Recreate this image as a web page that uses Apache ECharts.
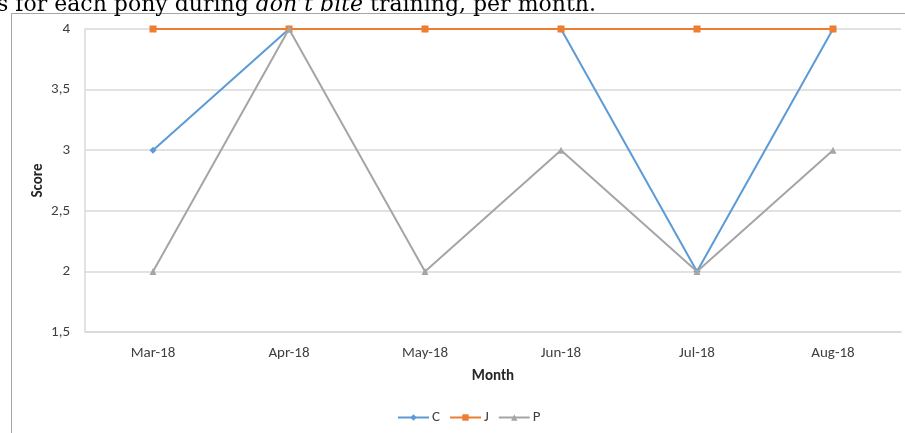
<!DOCTYPE html>
<html><head><meta charset="utf-8">
<script src="https://cdn.jsdelivr.net/npm/echarts@6/dist/echarts.min.js"></script>
<style>html,body{margin:0;padding:0;background:#fff}#c{width:905px;height:433px}</style>
</head><body><div id="c"></div>
<script>
var months = ['Mar-18','Apr-18','May-18','Jun-18','Jul-18','Aug-18'];
var seriesC = [3, 4, 4, 4, 2, 4];
var seriesJ = [4, 4, 4, 4, 4, 4];
var seriesP = [2, 4, 2, 3, 2, 3];
var yTicks = [1.5, 2, 2.5, 3, 3.5, 4];

var chart = echarts.init(document.getElementById('c'), null, {renderer:'canvas'});
var FF = 'Carlito, "Open Sans", "Liberation Sans", sans-serif';
var SERIF = '"DejaVu Serif", "Liberation Serif", serif';
chart.setOption({
  animation:false,
  graphic:[
    {type:'rect', shape:{x:11.5,y:13.5,width:1000,height:500}, style:{fill:null, stroke:'#a6a6a6', lineWidth:1}, silent:true},
    {type:'text', x:-3, y:16, style:{
      text:'{n|s for each pony during }{i|don\u2019t bite}{n| training, per month.}',
      verticalAlign:'bottom',
      rich:{
        n:{fontFamily:SERIF, fontSize:22, fill:'#000'},
        i:{fontFamily:SERIF, fontSize:22, fontStyle:'italic', fill:'#000'}
      }
    }}
  ],
  grid:{left:85, right:4, top:29, bottom:101, containLabel:false},
  legend:{
    top:410, left:397, padding:0, itemWidth:31, itemHeight:8, itemGap:9,
    textStyle:{fontFamily:FF, fontSize:15, color:'#404040', padding:[0,0,0,-2]},
    data:['C','J','P']
  },
  xAxis:{
    type:'category', data:months, boundaryGap:true,
    name:'Month', nameLocation:'middle', nameGap:37, nameMoveOverlap:false,
    nameTextStyle:{fontFamily:FF, fontSize:15, fontWeight:'bold', color:'#262626'},
    axisLine:{lineStyle:{color:'#d9d9d9', width:1.5}},
    axisTick:{show:false},
    axisLabel:{fontFamily:FF, fontSize:15, color:'#404040', margin:14}
  },
  yAxis:{
    type:'value', min:1.5, max:4, interval:0.5,
    name:'Score', nameLocation:'middle', nameGap:39, nameMoveOverlap:false,
    nameTextStyle:{fontFamily:FF, fontSize:15, fontWeight:'bold', color:'#262626'},
    axisLine:{show:true, lineStyle:{color:'#d9d9d9', width:1.5}},
    axisTick:{show:false},
    splitLine:{lineStyle:{color:'#d9d9d9', width:1.5}},
    axisLabel:{fontFamily:FF, fontSize:15, color:'#404040', margin:15,
      formatter:function(v){return String(v).replace('.', ',');}}
  },
  series:[
    {name:'C', type:'line', data:seriesC, color:'#5b9bd5', symbol:'diamond', symbolSize:7,
     lineStyle:{width:2}, itemStyle:{color:'#5b9bd5'}, z:2},
    {name:'J', type:'line', data:seriesJ, color:'#ed7d31', symbol:'rect', symbolSize:7,
     lineStyle:{width:2}, itemStyle:{color:'#ed7d31'}, z:3},
    {name:'P', type:'line', data:seriesP, color:'#a5a5a5', symbol:'triangle', symbolSize:7,
     lineStyle:{width:2}, itemStyle:{color:'#a5a5a5'}, z:4}
  ]
});
</script></body></html>
